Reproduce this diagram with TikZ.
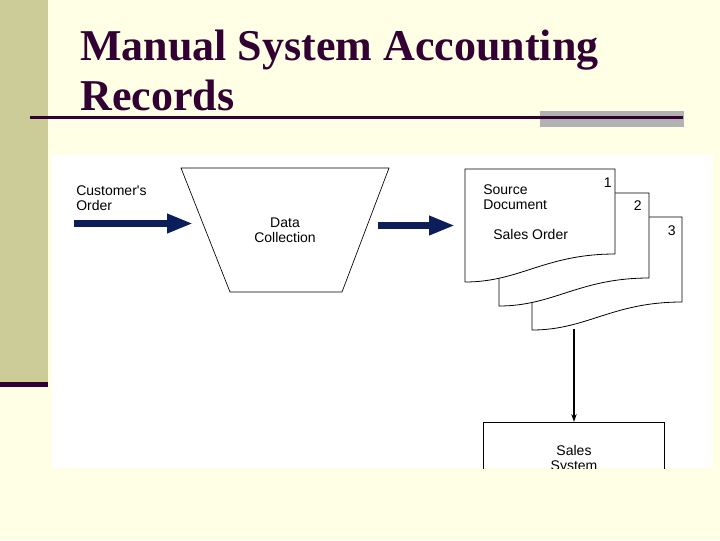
\documentclass[tikz,border=0pt]{standalone}
\usepackage{fontspec}
\setmainfont{Liberation Serif}
\newfontfamily\arialf{Liberation Sans}
\usetikzlibrary{arrows.meta}
\definecolor{bgcream}{RGB}{255,255,229}
\definecolor{barolive}{RGB}{204,204,153}
\definecolor{titlepurple}{RGB}{51,0,51}
\definecolor{bargray}{RGB}{178,178,178}
\definecolor{arrownavy}{RGB}{12,30,90}
\tikzset{
  docline/.style={line width=0.6pt, draw=black},
  lbl/.style={font=\arialf\fontsize{10.5}{11.25}\selectfont, inner sep=0pt, text=black},
  navyarrow/.style={draw=arrownavy, line width=5.25pt, -{Triangle[length=19.5pt, width=13.5pt, fill=arrownavy]}},
  flowarrow/.style={line width=1pt, -{Stealth[length=6pt, width=4pt]}},
}
\newcommand\docpage[2]{%
  \filldraw[docline, fill=white] (#1,#2) -- ({#1+150},#2) -- ({#1+150},{#2+85})
    .. controls ({#1+80},{#2+85}) and ({#1+55},{#2+113}) .. (#1,{#2+113}) -- cycle;}
\begin{document}
\begin{tikzpicture}[x=0.75pt, y=-0.75pt]
  \useasboundingbox (0,0) rectangle (720,540);
  \fill[bgcream] (0,0) rectangle (720,540);
  % left bar
  \fill[barolive] (0,0) rectangle (48,382);
  \fill[titlepurple] (0,382) rectangle (48,387);
  % title (base anchor = last line's baseline)
  \node[anchor=base west, align=left, inner sep=0pt, text=titlepurple,
        font=\bfseries\fontsize{33}{37.5}\selectfont] (title) at (80,110)
        {Manual System Accounting\\Records};
  \fill[bargray] (540,111) rectangle (684,127);
  \draw[titlepurple, line width=2.25pt] (30,117.5) -- (683,117.5);
  % white panel
  \fill[white] (52,155) rectangle (713,468);
  \begin{scope}
    \clip (52,155) rectangle (713,468);
    % data collection trapezoid
    \draw[docline, line width=0.5pt] (181,168) -- (389,168) -- (342,292) -- (230,292) -- cycle;
    \node[lbl, anchor=base, align=center] (datacol) at (285,242.5) {Data\\Collection};
    % customer's order
    \node[lbl, anchor=base west, align=left] (cust) at (76,210) {Customer's\\Order};
    \coordinate (inA) at (74,223.5);
    \coordinate (inB) at (193,223.5);
    \draw[navyarrow] (inA) -- (inB);
    \coordinate (outA) at (378,225.5);
    \coordinate (outB) at (455,225.5);
    \draw[navyarrow] (outA) -- (outB);
    % documents
    \docpage{532}{217}
    \docpage{499}{193}
    \docpage{465}{169}
    \node[lbl, anchor=base east] (n1) at (612,187) {1};
    \node[lbl, anchor=base east] (n2) at (642,210) {2};
    \node[lbl, anchor=base east] (n3) at (676,235) {3};
    \node[lbl, anchor=base west, align=left] (srcdoc) at (483,209) {Source\\Document};
    \node[lbl, anchor=base west] (salesord) at (493,239) {Sales Order};
    % sales system
    \coordinate (d3bot) at (574,328.5);
    \node[draw, line width=0.6pt, anchor=north, minimum width=135.75pt,
          minimum height=60pt, inner sep=0pt] (sales) at (573.5,422) {};
    \draw[flowarrow] (d3bot) -- (sales.north -| d3bot);
    \node[lbl, anchor=base, align=center] (salestxt) at (574,470) {Sales\\System};
  \end{scope}
\end{tikzpicture}
\end{document}
